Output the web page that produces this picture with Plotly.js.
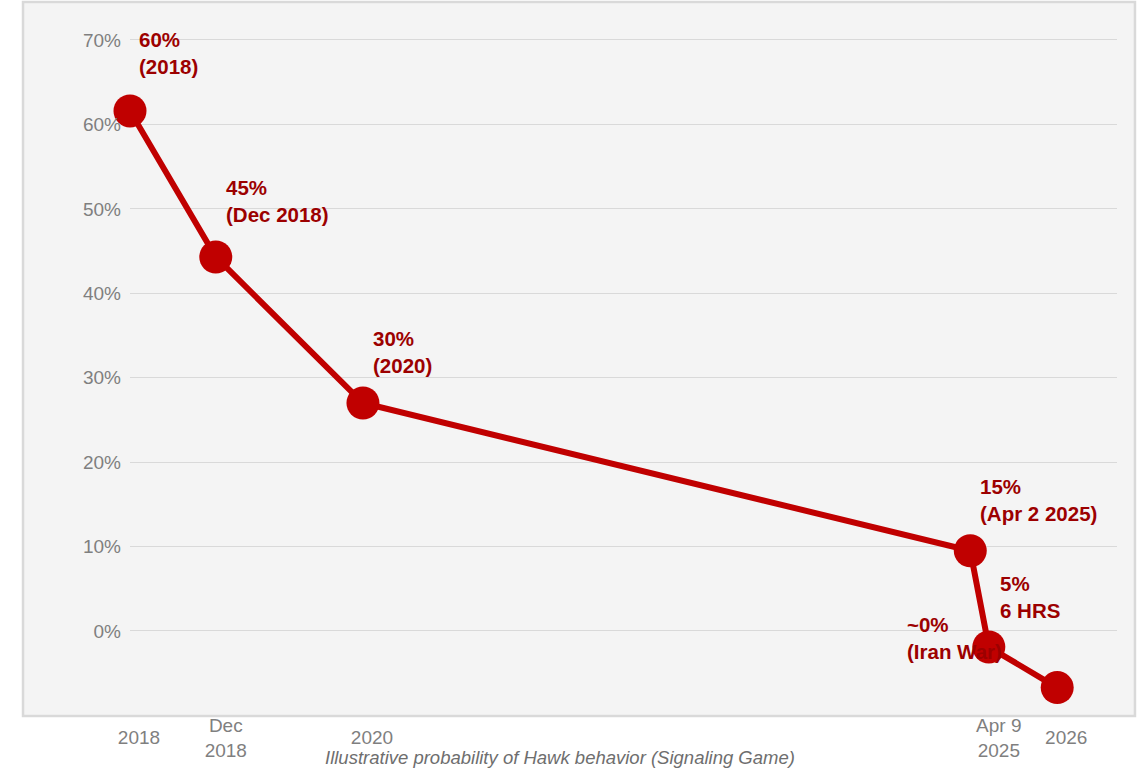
<!DOCTYPE html>
<html>
<head>
<meta charset="utf-8">
<script src="https://cdn.plot.ly/plotly-3.0.1.min.js"></script>
<style>html,body{margin:0;padding:0;background:#fff;}#chart{width:1142px;height:770px;}</style>
</head>
<body>
<div id="chart"></div>
<script>
// Data
const pointNames = ["2018", "Dec 2018", "2020", "Apr 2 2025", "Apr 9 2025", "2026"];
const xPositions = [2018.0, 2018.74, 2020.01, 2025.25, 2025.41, 2026.0];
const hawkProb = [61.6, 44.3, 27.0, 9.5, -1.9, -6.7];
const labelTexts = ["60%<br>(2018)", "45%<br>(Dec 2018)", "30%<br>(2020)", "15%<br>(Apr 2 2025)", "5%<br>6 HRS", "~0%<br>(Iran War)"];

const singleTickVals = [2018.0, 2020.01, 2026.0];
const singleTickText = ["2018", "2020", "2026"];
const doubleTickVals = [2018.74, 2025.41];
const doubleTickText = ["Dec<br>2018", "Apr 9<br>2025"];

const yTickVals = [0, 10, 20, 30, 40, 50, 60, 70];
const yTickText = ["0%", "10%", "20%", "30%", "40%", "50%", "60%", "70%"];

const FONT = "Liberation Sans, Arial, sans-serif";
const RED = "#c00000";
const DARKRED = "#9c0000";
const GRAY = "#7f7f7f";

// label offsets (pixels) relative to their points
const labelShiftX = [7, 8, 8, 8, 9, -152];
const labelShiftY = [58, 56, 51, 51, 50, 50];

const annotations = labelTexts.map((t, i) => ({
  x: xPositions[i], y: hawkProb[i], xref: "x", yref: "y",
  text: "<b>" + t + "</b>", showarrow: false,
  xanchor: "left", yanchor: "middle", align: "left",
  xshift: labelShiftX[i], yshift: labelShiftY[i],
  font: {family: FONT, size: 20.5, color: DARKRED}
}));
annotations.push({
  text: "<i>Illustrative probability of Hawk behavior (Signaling Game)</i>",
  xref: "paper", yref: "paper", x: 0.4357, y: -0.0575,
  xanchor: "center", yanchor: "middle", showarrow: false,
  font: {family: FONT, size: 18.5, color: "#6e6e6e"}
});

const traces = [
  {
    x: xPositions, y: hawkProb, text: pointNames,
    type: "scatter", mode: "lines+markers",
    line: {color: RED, width: 6},
    marker: {color: RED, size: 33},
    cliponaxis: false, showlegend: false,
    hovertemplate: "%{text}: %{y}%<extra></extra>"
  },
  {
    x: xPositions, y: hawkProb, xaxis: "x2",
    type: "scatter", mode: "markers",
    marker: {opacity: 0, size: 1},
    showlegend: false, hoverinfo: "skip"
  }
];

const axisFont = {family: FONT, size: 19, color: GRAY};

const layout = {
  width: 1142, height: 770,
  margin: {l: 130, r: 25, t: 2, b: 54},
  paper_bgcolor: "#ffffff",
  plot_bgcolor: "rgba(0,0,0,0)",
  showlegend: false,
  shapes: [{
    type: "rect", xref: "paper", yref: "paper", layer: "below",
    x0: -0.1084, x1: 1.0182, y0: 0, y1: 1.0,
    fillcolor: "#f4f4f4", line: {color: "#d9d9d9", width: 2.5}
  }],
  xaxis: {
    range: [2018.0, 2026.516],
    tickvals: singleTickVals, ticktext: singleTickText,
    showgrid: false, zeroline: false, showline: false, ticks: "",
    tickfont: axisFont, ticklabelshift: 9, ticklabelstandoff: 8
  },
  xaxis2: {
    overlaying: "x", matches: "x", anchor: "y", side: "bottom",
    tickvals: doubleTickVals, ticktext: doubleTickText,
    showgrid: false, zeroline: false, showline: false, ticks: "",
    tickfont: axisFont, ticklabelshift: 10, ticklabelstandoff: -4
  },
  yaxis: {
    range: [-10.07, 74.5],
    tickvals: yTickVals, ticktext: yTickText,
    showgrid: true, gridcolor: "#d9d9d9", gridwidth: 1.3,
    zeroline: false, showline: false, ticks: "",
    tickfont: axisFont, ticklabelstandoff: 8
  },
  annotations: annotations,
  font: {family: FONT}
};

Plotly.newPlot("chart", traces, layout, {displayModeBar: false});
</script>
</body>
</html>
